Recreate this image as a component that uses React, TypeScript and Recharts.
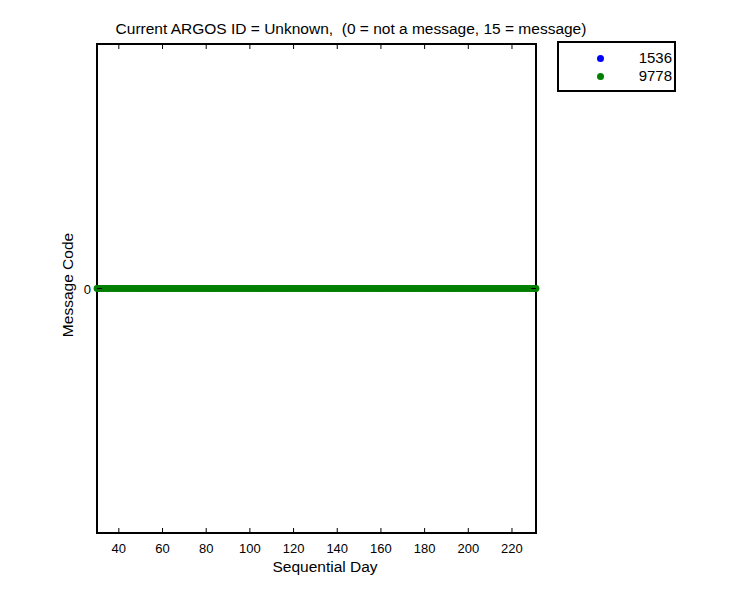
import React from 'react';
import { ScatterChart, Scatter, XAxis, YAxis, ReferenceArea } from 'recharts';

// sequential days recorded for each ID (message code 0 on every day)
const days9778 = [
  30, 31, 32, 33, 34, 35, 36, 37, 38, 39, 40, 41, 42, 43, 44, 45, 46, 47, 48, 49,
  50, 51, 52, 53, 54, 55, 56, 57, 58, 59, 60, 61, 62, 63, 64, 65, 66, 67, 68, 69,
  70, 71, 72, 73, 74, 75, 76, 77, 78, 79, 80, 81, 82, 83, 84, 85, 86, 87, 88, 89,
  90, 91, 92, 93, 94, 95, 96, 97, 98, 99, 100, 101, 102, 103, 104, 105, 106, 107, 108, 109,
  110, 111, 112, 113, 114, 115, 116, 117, 118, 119, 120, 121, 122, 123, 124, 125, 126, 127, 128, 129,
  130, 131, 132, 133, 134, 135, 136, 137, 138, 139, 140, 141, 142, 143, 144, 145, 146, 147, 148, 149,
  150, 151, 152, 153, 154, 155, 156, 157, 158, 159, 160, 161, 162, 163, 164, 165, 166, 167, 168, 169,
  170, 171, 172, 173, 174, 175, 176, 177, 178, 179, 180, 181, 182, 183, 184, 185, 186, 187, 188, 189,
  190, 191, 192, 193, 194, 195, 196, 197, 198, 199, 200, 201, 202, 203, 204, 205, 206, 207, 208, 209,
  210, 211, 212, 213, 214, 215, 216, 217, 218, 219, 220, 221, 222, 223, 224, 225, 226, 227, 228, 229,
  230, 231,
];
const days1536: number[] = [];

const xTicks = [40, 60, 80, 100, 120, 140, 160, 180, 200, 220];
const yTicks = [0];

const series = [
  { name: '1536', color: '#0000ff', days: days1536 },
  { name: '9778', color: '#007f00', days: days9778 },
];

const PLOT_W = 439;
const PLOT_H = 489;
const font = '"Liberation Sans", Arial, sans-serif';

const XTick = (props: any) => {
  const { x, y, payload } = props;
  return (
    <g>
      <line x1={x} y1={y} x2={x} y2={y - 5} stroke="#000" strokeWidth={1} />
      <line x1={x} y1={y - PLOT_H} x2={x} y2={y - PLOT_H + 5} stroke="#000" strokeWidth={1} />
      <text x={x} y={y + 20} textAnchor="middle" fontSize={13} fontFamily={font} fill="#000">
        {payload.value}
      </text>
    </g>
  );
};

const YTick = (props: any) => {
  const { x, y, payload } = props;
  return (
    <g>
      <line x1={x} y1={y} x2={x + 5} y2={y} stroke="#000" strokeWidth={1} />
      <line x1={x + PLOT_W} y1={y} x2={x + PLOT_W - 5} y2={y} stroke="#000" strokeWidth={1} />
      <text x={x - 6} y={y + 5} textAnchor="end" fontSize={13} fontFamily={font} fill="#000">
        {payload.value}
      </text>
    </g>
  );
};

const Dot = (props: any) => {
  const { cx, cy, fill } = props;
  return <circle cx={cx} cy={cy} r={3.4} fill={fill} />;
};

const LegendBox = () => (
  <div
    style={{
      position: 'absolute',
      left: 557,
      top: 41,
      width: 115,
      height: 47,
      border: '2px solid #000',
      background: '#fff',
      fontFamily: font,
      fontSize: 15,
    }}
  >
    {series.map((s, i) => (
      <div key={s.name} style={{ position: 'relative', height: 18, marginTop: i === 0 ? 6 : 0 }}>
        <span
          style={{
            position: 'absolute',
            left: 38,
            top: 6,
            width: 7,
            height: 7,
            borderRadius: '50%',
            background: s.color,
          }}
        />
        <span style={{ position: 'absolute', right: 2, top: 0, lineHeight: '18px' }}>{s.name}</span>
      </div>
    ))}
  </div>
);

const labelStyle: React.CSSProperties = {
  position: 'absolute',
  whiteSpace: 'pre',
  fontFamily: font,
  fontSize: 15.5,
  lineHeight: '18px',
};

export default function App() {
  return (
    <div style={{ position: 'absolute', left: 0, top: 0, width: 750, height: 600, background: '#fff' }}>
      <ScatterChart width={750} height={600} margin={{ top: 44, right: 214, left: 57, bottom: 37 }}>
        <XAxis
          type="number"
          dataKey="day"
          domain={[30, 231]}
          ticks={xTicks}
          axisLine={false}
          tickLine={false}
          tickSize={0}
          tickMargin={0}
          height={30}
          tick={<XTick />}
        />
        <YAxis
          type="number"
          dataKey="code"
          domain={[-1, 1]}
          ticks={yTicks}
          axisLine={false}
          tickLine={false}
          tickSize={0}
          tickMargin={0}
          width={40}
          tick={<YTick />}
        />
        {series.map((s) => (
          <Scatter
            key={s.name}
            name={s.name}
            data={s.days.map((d) => ({ day: d, code: 0 }))}
            fill={s.color}
            shape={<Dot />}
            isAnimationActive={false}
          />
        ))}
        <ReferenceArea x1={30} x2={231} y1={-1} y2={1} fill="none" stroke="#000" strokeWidth={2} ifOverflow="visible" />
      </ScatterChart>
      <LegendBox />
      <div style={{ ...labelStyle, left: 351, top: 20, transform: 'translateX(-50%)' }}>
        {'Current ARGOS ID = Unknown,  (0 = not a message, 15 = message)'}
      </div>
      <div style={{ ...labelStyle, left: 325, top: 558, transform: 'translateX(-50%)' }}>Sequential Day</div>
      <div style={{ ...labelStyle, left: 68, top: 285, transform: 'translate(-50%, -50%) rotate(-90deg)' }}>
        Message Code
      </div>
    </div>
  );
}
